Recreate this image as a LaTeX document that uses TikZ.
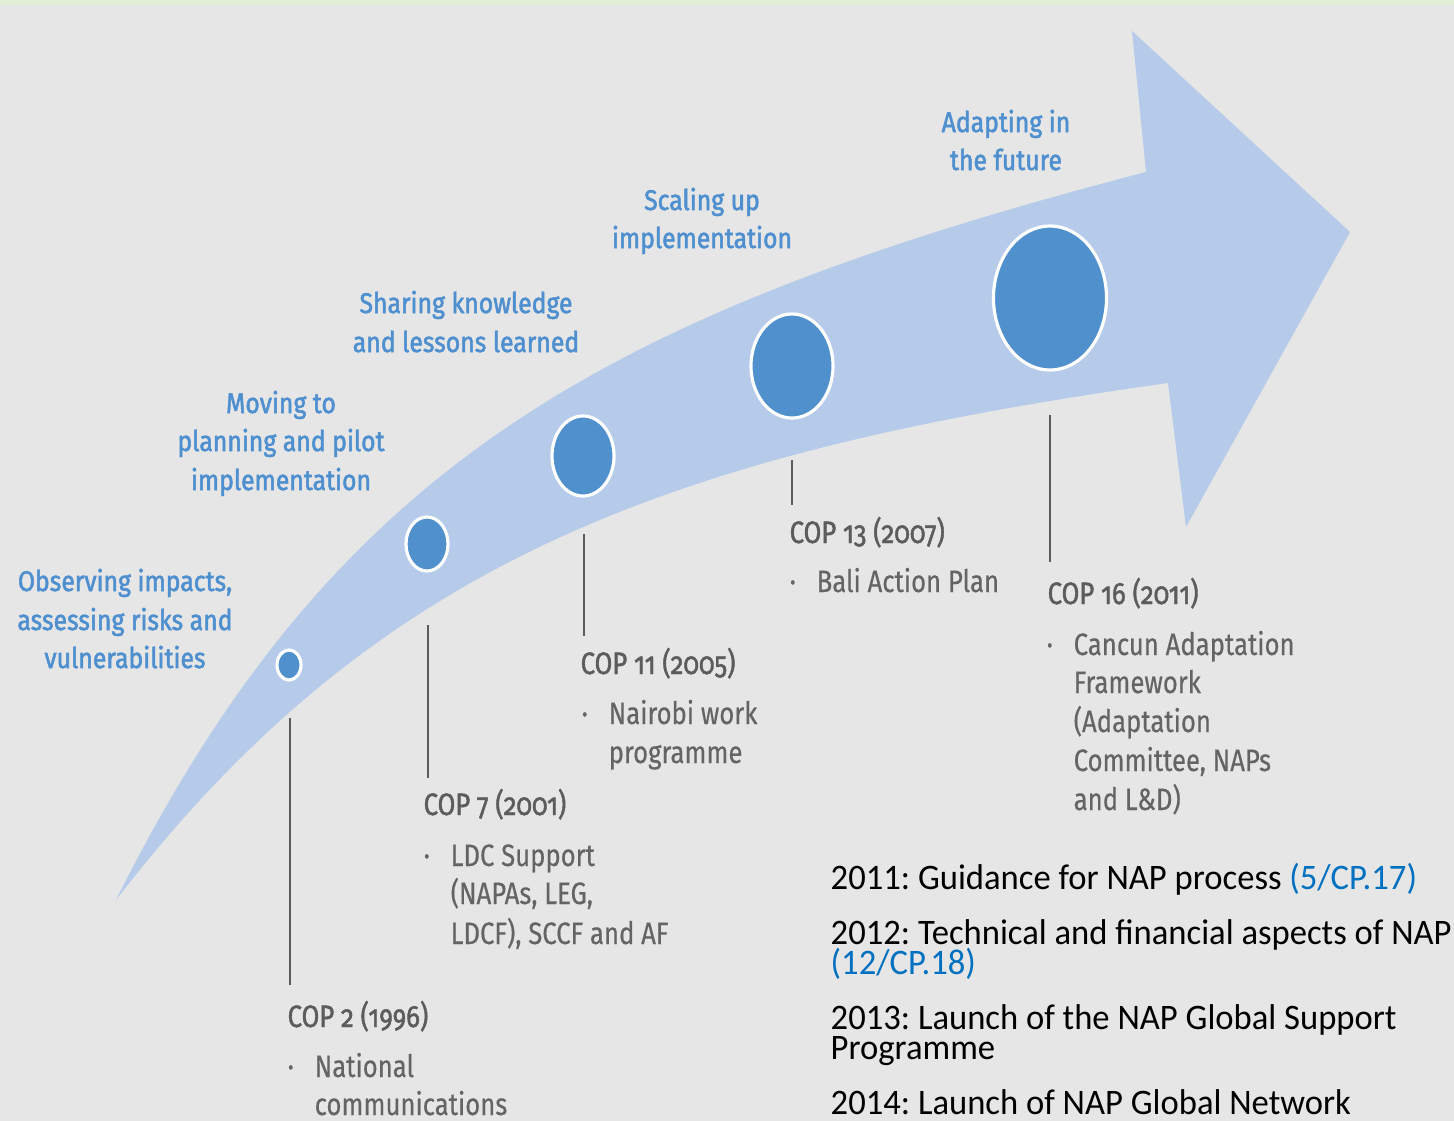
\documentclass[tikz,border=0pt]{standalone}
\usepackage{fontspec}
\usetikzlibrary{shapes.geometric}
\setmainfont[FakeStretch=0.965]{Carlito}
\newfontfamily\headfont[FakeStretch=0.87,FakeBold=1.8]{Fira Sans}
\newfontfamily\copfont[FakeStretch=0.83,FakeBold=1.4,Numbers=OldStyle]{Fira Sans}
\newfontfamily\itemfont[FakeStretch=0.83,FakeBold=0.4]{Fira Sans}
\definecolor{bgGrey}{HTML}{E6E6E6}
\definecolor{topGreen}{HTML}{E2EED8}
\definecolor{bandBlue}{HTML}{B5CBE9}
\definecolor{dotBlue}{HTML}{4F90CD}
\definecolor{headBlue}{HTML}{4E8FCF}
\definecolor{copGrey}{HTML}{5C5C5C}
\definecolor{itemGrey}{HTML}{646464}
\definecolor{linkBlue}{HTML}{0070C0}
\frenchspacing

\begin{document}
\begin{tikzpicture}[x=0.01cm,y=-0.01cm,
    head/.style={font=\headfont\fontsize{8.1}{9}\selectfont,text=headBlue,anchor=base,inner sep=0},
    cop/.style={font=\copfont\fontsize{8.8}{10}\selectfont,text=copGrey,anchor=base west,inner sep=0},
    item/.style={font=\itemfont\fontsize{8.8}{10}\selectfont,text=itemGrey,anchor=base west,inner sep=0},
    note/.style={font=\fontsize{10.2}{11}\selectfont,text=black,anchor=base west,inner sep=0},
    dot/.style={ellipse,fill=dotBlue,draw=white,line width=0.9pt,inner sep=0},
    tick/.style={draw=copGrey,line width=0.45pt}]
    \useasboundingbox (0,0) rectangle (1454,1121);
    \fill[bgGrey] (0,0) rectangle (1454,1121);
    \fill[topGreen] (0,0) rectangle (1454,5);

    % the arrow
    \coordinate (tail) at (116,900);
    \fill[bandBlue] (tail) .. controls (331,470) and (596,315) .. (1146,172)
        -- (1132,31) -- (1350,232) -- (1186,527) -- (1168,383)
        .. controls (668,453) and (376,562) .. (tail) -- cycle;

    % milestones
    \node[dot,minimum width=0.24cm,minimum height=0.30cm] (d1) at (289,665) {};
    \node[dot,minimum width=0.42cm,minimum height=0.54cm] (d2) at (427,544) {};
    \node[dot,minimum width=0.62cm,minimum height=0.80cm] (d3) at (583,456) {};
    \node[dot,minimum width=0.82cm,minimum height=1.04cm] (d4) at (792,366) {};
    \node[dot,minimum width=1.13cm,minimum height=1.44cm] (d5) at (1050,298) {};

    % stages
    \node[head] (obs1) at (125,591) {Observing impacts,};
    \node[head] (obs2) at (125,630) {assessing risks and};
    \node[head] (obs3) at (125,668) {vulnerabilities};
    \node[head] (mov1) at (281,413) {Moving to};
    \node[head] (mov2) at (281,451) {planning and pilot};
    \node[head] (mov3) at (281,490) {implementation};
    \node[head] (sha1) at (466,313) {Sharing knowledge};
    \node[head] (sha2) at (466,352) {and lessons learned};
    \node[head] (sca1) at (702,210) {Scaling up};
    \node[head] (sca2) at (702,248) {implementation};
    \node[head] (ada1) at (1006,132) {Adapting in};
    \node[head] (ada2) at (1006,170) {the future};

    % ticks
    \coordinate (t1) at (290,718);  \coordinate (b1) at (290,985);
    \coordinate (t2) at (428,625);  \coordinate (b2) at (428,778);
    \coordinate (t3) at (584,534);  \coordinate (b3) at (584,636);
    \coordinate (t4) at (792,460);  \coordinate (b4) at (792,505);
    \coordinate (t5) at (1050,415); \coordinate (b5) at (1050,562);
    \draw[tick] (t1) -- (b1);
    \draw[tick] (t2) -- (b2);
    \draw[tick] (t3) -- (b3);
    \draw[tick] (t4) -- (b4);
    \draw[tick] (t5) -- (b5);

    % COPs
    \node[cop] (cop2) at (287,1027) {COP 2 (1996)};
    \node[item] (cop2b) at (287,1077) {·};
    \node[item] (cop2i1) at (314,1077) {National};
    \node[item] (cop2i2) at (314,1115) {communications};

    \node[cop] (cop7) at (423,815) {COP 7 (2001)};
    \node[item] (cop7b) at (423,866) {·};
    \node[item] (cop7i1) at (450,866) {LDC Support};
    \node[item] (cop7i2) at (450,904) {(NAPAs, LEG,};
    \node[item] (cop7i3) at (450,944) {LDCF), SCCF and AF};

    \node[cop] (cop11) at (580,674) {COP 11 (2005)};
    \node[item] (cop11b) at (581,724) {·};
    \node[item] (cop11i1) at (608,724) {Nairobi work};
    \node[item] (cop11i2) at (608,763) {programme};

    \node[cop] (cop13) at (789,543) {COP 13 (2007)};
    \node[item] (cop13b) at (789,592) {·};
    \node[item] (cop13i1) at (816,592) {Bali Action Plan};

    \node[cop] (cop16) at (1047,604) {COP 16 (2011)};
    \node[item] (cop16b) at (1046,655) {·};
    \node[item] (cop16i1) at (1073,655) {Cancun Adaptation};
    \node[item] (cop16i2) at (1073,693) {Framework};
    \node[item] (cop16i3) at (1073,732) {(Adaptation};
    \node[item] (cop16i4) at (1073,771) {Committee, NAPs};
    \node[item] (cop16i5) at (1073,810) {and L\&D)};

    % NAP notes
    \node[note] (n1) at (830,889) {2011: Guidance for NAP process \textcolor{linkBlue}{(5/CP.17)}};
    \node[note] (n2a) at (830,944) {2012: Technical and financial aspects of NAP};
    \node[note] (n2b) at (830,974) {\textcolor{linkBlue}{(12/CP.18)}};
    \node[note] (n3a) at (830,1029) {2013: Launch of the NAP Global Support};
    \node[note] (n3b) at (830,1059) {Programme};
    \node[note] (n4) at (830,1114) {2014: Launch of NAP Global Network};
\end{tikzpicture}
\end{document}
